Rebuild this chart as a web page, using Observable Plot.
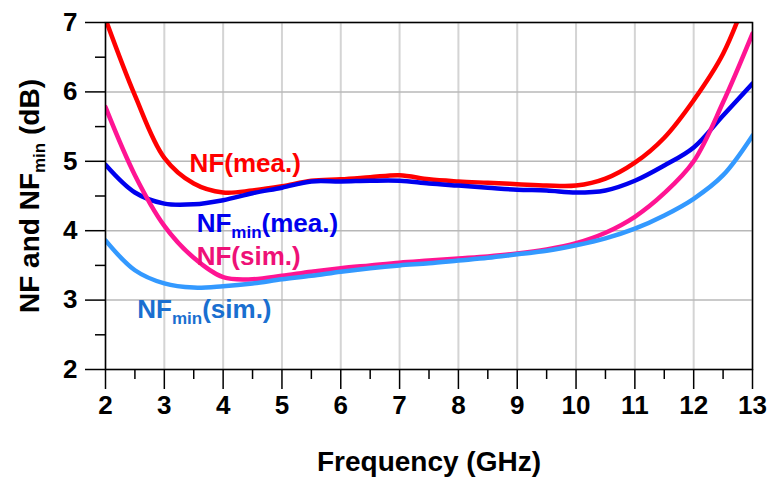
<!DOCTYPE html>
<html><head><meta charset="utf-8">
<script src="https://cdn.jsdelivr.net/npm/d3@7"></script>
<script src="https://cdn.jsdelivr.net/npm/@observablehq/plot@0.6"></script>
<style>body{margin:0;background:#fff}</style>
</head><body><div id="chart"></div>
<script>
const freq = [2,2.5,3,3.5,4,4.5,5,5.5,6,6.5,7,7.5,8,8.5,9,9.5,10,10.5,11,11.5,12,12.5,13];
const nfMea = [7.05,5.95,5.05,4.68,4.55,4.58,4.64,4.72,4.74,4.77,4.80,4.74,4.71,4.69,4.67,4.65,4.65,4.75,4.98,5.34,5.88,6.55,7.6];
const nfminMea = [4.95,4.55,4.39,4.38,4.44,4.54,4.62,4.71,4.71,4.72,4.72,4.68,4.65,4.62,4.59,4.58,4.55,4.58,4.72,4.94,5.2,5.66,6.12];
const nfSim = [5.78,4.8,4.07,3.61,3.33,3.30,3.35,3.41,3.46,3.50,3.54,3.57,3.60,3.63,3.67,3.73,3.82,3.97,4.20,4.54,5.0,5.85,6.84];
const nfminSim = [3.86,3.43,3.24,3.18,3.2,3.24,3.30,3.35,3.41,3.46,3.50,3.53,3.57,3.61,3.66,3.71,3.79,3.89,4.03,4.22,4.46,4.8,5.37];
const seriesNames = ["NF(mea.)","NFmin(mea.)","NF(sim.)","NFmin(sim.)"];
const seriesColors = ["#ff0000","#0000ee","#ff1493","#3399ff"];
const labelColors = ["#ff0000","#0000ee","#ee1177","#1a6fd0"];
const labelX = [3.43,3.55,3.55,2.54];
const labelY = [4.97,4.10,3.63,2.86];
const xTicks = [2,3,4,5,6,7,8,9,10,11,12,13];
const xMinor = [2.5,3.5,4.5,5.5,6.5,7.5,8.5,9.5,10.5,11.5,12.5];
const yTicks = [2,3,4,5,6,7];
const yMinor = [2.5,3.5,4.5,5.5,6.5];

const allSeries = [nfMea, nfminMea, nfSim, nfminSim];
const rows = [];
allSeries.forEach((vals, si) => vals.forEach((v, i) => rows.push({f: freq[i], v, s: seriesNames[si]})));
const labels = seriesNames.map((s, i) => ({s, x: labelX[i], y: labelY[i], c: labelColors[i]}));
const font = "Liberation Sans, Arial, sans-serif";

const chart = Plot.plot({
  width: 771, height: 479,
  marginLeft: 105, marginRight: 19, marginTop: 22, marginBottom: 110,
  style: {fontFamily: font, background: "#fff"},
  x: {domain: [2, 13]},
  y: {domain: [2, 7]},
  color: {domain: seriesNames, range: seriesColors},
  marks: [
    Plot.gridX(xTicks, {stroke: "#d4d4d4", strokeOpacity: 1, strokeWidth: 2}),
    Plot.gridY(yTicks, {stroke: "#b8b8b8", strokeOpacity: 1, strokeWidth: 1.5}),
    Plot.line(rows, {x: "f", y: "v", z: "s", stroke: "s", strokeWidth: 4.5, curve: "catmull-rom", clip: true}),
    Plot.frame({stroke: "#000", strokeWidth: 1.5}),
    Plot.axisX(xTicks, {tickSize: 20, tickPadding: 6, tickFormat: d => String(d), fontSize: 26, fontWeight: "bold", fill: "#000", stroke: "#000", strokeWidth: 1.5, label: null}),
    Plot.axisX(xMinor, {tickSize: 10, tickFormat: () => "", stroke: "#000", strokeWidth: 1.5, label: null}),
    Plot.axisY(yTicks, {tickSize: 20, tickPadding: 8, tickFormat: d => String(d), fontSize: 26, fontWeight: "bold", fill: "#000", stroke: "#000", strokeWidth: 1.5, label: null}),
    Plot.axisY(yMinor, {tickSize: 10, tickFormat: () => "", stroke: "#000", strokeWidth: 1.5, label: null}),
    Plot.text(labels, {x: "x", y: "y", text: "s", fill: "c", textAnchor: "start", lineAnchor: "middle", fontSize: 26, fontWeight: "bold"}),
    Plot.text(["Frequency (GHz)"], {frameAnchor: "bottom", dy: 93, textAnchor: "middle", lineAnchor: "middle", fontSize: 28, fontWeight: "bold", fill: "#000"}),
    Plot.text(["NF and NFmin (dB)"], {frameAnchor: "left", rotate: -90, dx: -75, textAnchor: "middle", lineAnchor: "middle", fontSize: 28, fontWeight: "bold", fill: "#000"})
  ]
});

// subscript "min"
d3.select(chart).selectAll("text").each(function() {
  const t = d3.select(this);
  const s = t.text();
  const idx = s.indexOf("NFmin");
  if (idx < 0) return;
  const before = s.slice(0, idx + 2), after = s.slice(idx + 5);
  const host = t.select("tspan").empty() ? t : t.select("tspan");
  host.text(null);
  host.append("tspan").text(before);
  host.append("tspan").attr("font-size", 17).attr("dy", 6).text("min");
  host.append("tspan").attr("dy", -6).text(after);
});

document.getElementById("chart").appendChild(chart);
</script>
</body></html>
